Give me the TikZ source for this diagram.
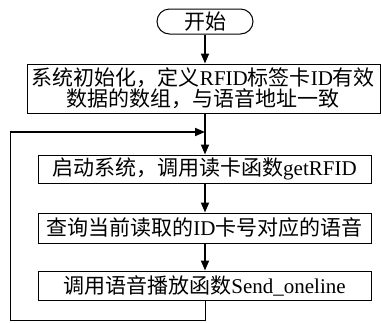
\documentclass[tikz,border=0pt]{standalone}
\usepackage{fontspec}
\setmainfont{Liberation Serif}
\newfontfamily\cjk{Noto Sans CJK SC}
\usetikzlibrary{arrows.meta}
\tikzset{
  box/.style={draw, line width=1pt, inner sep=0pt, minimum height=29pt,
    font=\fontsize{21}{22}\selectfont, align=center},
  terminal/.style={box, rounded corners=12.5pt, minimum width=96pt, minimum height=25pt},
  flow/.style={line width=1.8pt, -{Triangle[length=10pt,width=8pt]}},
  backline/.style={line width=1pt}
}
\begin{document}
\begin{tikzpicture}[x=1pt,y=-1pt]
  \useasboundingbox (0,0) rectangle (381,322);
  % process boxes
  \node[terminal] (start) at (205,21.5) {\cjk 开始};
  \node[box, minimum width=353pt, minimum height=49pt] (init) at (203.5,88.5)
    {{\cjk 系统初始化，定义}RFID{\cjk 标签卡}ID{\cjk 有效}\\[-1pt]{\cjk 数据的数组，与语音地址一致}};
  \node[box, minimum width=333pt, minimum height=28pt] (boot) at (204.5,169)
    {{\cjk 启动系统，调用读卡函数}getRFID};
  \node[box, minimum width=333pt, minimum height=30pt] (query) at (204.5,228)
    {{\cjk 查询当前读取的}ID{\cjk 卡号对应的语音}};
  \node[box, minimum width=333pt, minimum height=29pt] (play) at (204.5,285.5)
    {{\cjk 调用语音播放函数}Send\_oneline};
  % loop corner points
  \coordinate (j) at (205,132);
  \coordinate (lt) at (10,132);
  \coordinate (lb) at (10,320.5);
  \coordinate (b) at (205,320.5);
  % main flow
  \draw[flow] (start.south -| j) -- (init.north -| j);
  \draw[flow] (init.south -| j) -- (boot.north -| j);
  \draw[flow] (boot.south -| j) -- (query.north -| j);
  \draw[flow] (query.south -| j) -- (play.north -| j);
  % loop back to the read step
  \draw[backline] (play.south -| j) -- (b) -- (lb) -- ([yshift=0.4pt]lt);
  \draw[flow] ([xshift=-0.5pt]lt) -- (j);
\end{tikzpicture}
\end{document}
